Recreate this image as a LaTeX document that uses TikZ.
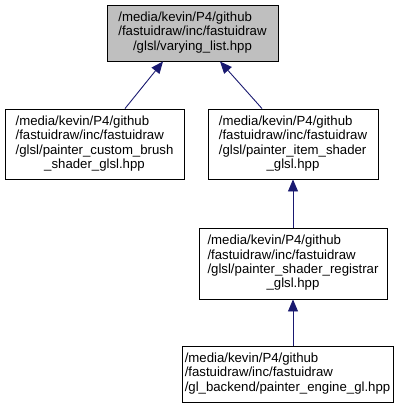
\documentclass[tikz,border=0pt]{standalone}
\usepackage{fontspec}
\setmainfont{Liberation Sans}
\usetikzlibrary{arrows.meta}
\definecolor{edgeblue}{HTML}{191970}
\definecolor{boxgray}{HTML}{BFBFBF}
\begin{document}
\begin{tikzpicture}[x=1pt,y=-1pt,
  file/.style={draw=black,line width=0.9pt,rectangle,inner sep=0pt,font=\fontsize{13.2}{14.3}\selectfont},
  arr/.style={draw=edgeblue,line width=0.9pt,-{Triangle[length=12pt,width=10pt,fill=edgeblue]}}]
\useasboundingbox (0,0) rectangle (410,408);
\newcommand{\fl}[2]{\begin{tabular}{@{}l@{}}#1\\\multicolumn{1}{@{}c@{}}{#2}\end{tabular}}
\node[file,fill=boxgray,minimum width=171pt,minimum height=56pt] (top) at (192.5,33)
  {\fl{/media/kevin/P4/github\\/fastuidraw/inc/fastuidraw}{/glsl/varying\_list.hpp}};
\node[file,minimum width=179pt,minimum height=70pt] (left) at (94.5,144)
  {\fl{/media/kevin/P4/github\\/fastuidraw/inc/fastuidraw\\/glsl/painter\_custom\_brush}{\_shader\_glsl.hpp}};
\node[file,minimum width=170pt,minimum height=70pt] (right) at (293,144)
  {\fl{/media/kevin/P4/github\\/fastuidraw/inc/fastuidraw\\/glsl/painter\_item\_shader}{\_glsl.hpp}};
\node[file,minimum width=188pt,minimum height=71pt] (reg) at (293,263.5)
  {\fl{/media/kevin/P4/github\\/fastuidraw/inc/fastuidraw\\/glsl/painter\_shader\_registrar}{\_glsl.hpp}};
\node[file,minimum width=211pt,minimum height=56pt] (bot) at (287.5,374)
  {\begin{tabular}{@{}l@{}}/media/kevin/P4/github\\/fastuidraw/inc/fastuidraw\\/gl\_backend/painter\_engine\_gl.hpp\end{tabular}};
\draw[arr] ([xshift=30.5pt]left.north) -- ([xshift=-29.5pt]top.south);
\draw[arr] ([xshift=-31pt]right.north) -- ([xshift=27.5pt]top.south);
\draw[arr] (reg.north) -- (right.south);
\draw[arr] (bot.north -| reg.north) -- (reg.south);
\end{tikzpicture}
\end{document}
